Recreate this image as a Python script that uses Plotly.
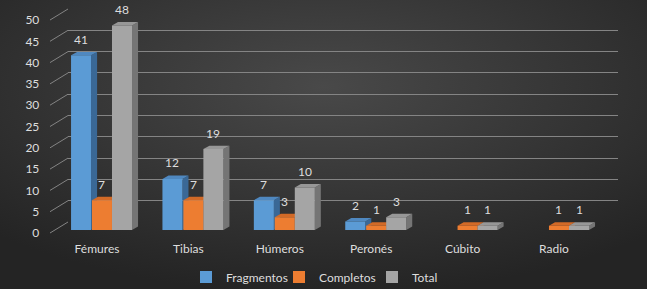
import base64
import plotly.graph_objects as go

# ---------------- data ----------------
categories = ["Fémures", "Tibias", "Húmeros", "Peronés", "Cúbito", "Radio"]
fragmentos = [41, 12, 7, 2, 0, 0]
completos = [7, 7, 3, 1, 1, 1]
total = [48, 19, 10, 3, 1, 1]
series_names = ["Fragmentos", "Completos", "Total"]
y_ticks = [0, 5, 10, 15, 20, 25, 30, 35, 40, 45, 50]

series_values = [fragmentos, completos, total]

# ---------------- styling / geometry ----------------
W, H = 647, 289
TXT = "#dedede"
GRID = "#848484"
FONT = "Lato"

front_cols = ["#5B9BD5", "#ED7D31", "#A5A5A5"]
top_cols = ["#4F88C0", "#D26A27", "#979797"]
side_cols = ["#3A6896", "#AD551B", "#757575"]

bar_offsets = [-0.284, -0.055, 0.164]
bar_width = 0.219
DX, DY = 0.066, 0.8  # bar depth, in axis units


def px(x):
    return x / W


def py(y):
    return (H - y) / H


YMAX = y_ticks[-1]
front_dom_x = [px(51.3), px(599.7)]
front_dom_y = [py(230), py(17)]
back_dom_x = [px(68), px(618)]
back_dom_y = [py(222), py(9)]
label_dom_y = [py(233), py(20)]


def lerp(dom, v):
    return dom[0] + (dom[1] - dom[0]) * v / YMAX


# background radial gradient
svg = f"""<svg xmlns='http://www.w3.org/2000/svg' width='{W}' height='{H}' viewBox='0 0 {W} {H}' preserveAspectRatio='none'>
<defs><radialGradient id='g' cx='50%' cy='30%' r='72%'>
<stop offset='0' stop-color='#494949'/><stop offset='1' stop-color='#242424'/></radialGradient></defs>
<rect width='{W}' height='{H}' fill='url(#g)'/></svg>"""
bg_src = "data:image/svg+xml;base64," + base64.b64encode(svg.encode()).decode()

fig = go.Figure()

# invisible trace on the back-wall subplot
fig.add_trace(go.Scatter(x=[None], y=[None], xaxis="x", yaxis="y",
                         showlegend=False, hoverinfo="skip"))

shapes = []
annotations = []
for s, (name, vals) in enumerate(zip(series_names, series_values)):
    fig.add_trace(go.Bar(
        x=categories, y=vals, name=name, xaxis="x2", yaxis="y2",
        offset=bar_offsets[s], width=bar_width,
        marker=dict(color=front_cols[s], line=dict(width=0)),
        hoverinfo="x+y+name",
    ))
    for i, v in enumerate(vals):
        if not v:
            continue
        x0 = i + bar_offsets[s]
        x1 = x0 + bar_width
        # side face
        shapes.append(dict(
            type="path", xref="x2", yref="y2", layer="between",
            path=f"M{x1},0 L{x1},{v} L{x1 + DX},{v + DY} L{x1 + DX},{DY} Z",
            fillcolor=side_cols[s], line=dict(width=0)))
        # top face
        shapes.append(dict(
            type="path", xref="x2", yref="y2", layer="between",
            path=f"M{x0},{v} L{x1},{v} L{x1 + DX},{v + DY} L{x0 + DX},{v + DY} Z",
            fillcolor=top_cols[s], line=dict(width=0)))
        annotations.append(dict(
            x=(x0 + x1) / 2, y=v + DY, xref="x2", yref="y2",
            text=str(v), showarrow=False, yanchor="bottom", yshift=3,
            font=dict(family=FONT, size=12, color=TXT)))

# diagonal connectors from y labels to the back wall
for t in y_ticks:
    shapes.append(dict(
        type="line", xref="paper", yref="paper", layer="below",
        x0=px(50), y0=lerp(label_dom_y, t), x1=back_dom_x[0], y1=lerp(back_dom_y, t),
        line=dict(color=GRID, width=1)))

fig.update_layout(
    width=W, height=H, autosize=False,
    margin=dict(l=0, r=0, t=0, b=0, pad=0, autoexpand=False),
    paper_bgcolor="#333333",
    plot_bgcolor="rgba(0,0,0,0)",
    font=dict(family=FONT, size=12, color=TXT),
    barmode="overlay",
    images=[dict(source=bg_src, xref="paper", yref="paper", x=0, y=1,
                 sizex=1, sizey=1, sizing="stretch", layer="below",
                 xanchor="left", yanchor="top")],
    xaxis=dict(domain=back_dom_x, range=[0, 1], anchor="y", automargin=False,
               showgrid=False, zeroline=False, showticklabels=False, showline=False),
    yaxis=dict(domain=back_dom_y, range=[0, YMAX], anchor="x", automargin=False,
               tickvals=y_ticks, showgrid=True, gridcolor=GRID, gridwidth=1,
               zeroline=False, showticklabels=False, showline=False),
    xaxis2=dict(domain=front_dom_x, range=[-0.5, len(categories) - 0.5], anchor="y2",
                type="category", showgrid=False, zeroline=False, showline=False,
                ticks="", ticklabelstandoff=10, automargin=False,
                tickfont=dict(family=FONT, size=12, color=TXT)),
    yaxis2=dict(domain=front_dom_y, range=[0, YMAX], anchor="x2",
                tickvals=y_ticks, showgrid=False, zeroline=False, showline=False,
                ticks="", ticklabelstandoff=11, ticklabelshift=3, automargin=False,
                tickfont=dict(family=FONT, size=12, color=TXT)),
    legend=dict(orientation="h", x=px(186), xanchor="left", y=py(277), yanchor="middle",
                bgcolor="rgba(0,0,0,0)", font=dict(family=FONT, size=12, color=TXT),
                itemwidth=30, entrywidth=48, entrywidthmode="pixels"),
    shapes=shapes,
    annotations=annotations,
)

fig.write_html("out.html", config={"displayModeBar": False},
               post_script="document.body.style.margin='0';document.body.style.overflow='hidden';")
